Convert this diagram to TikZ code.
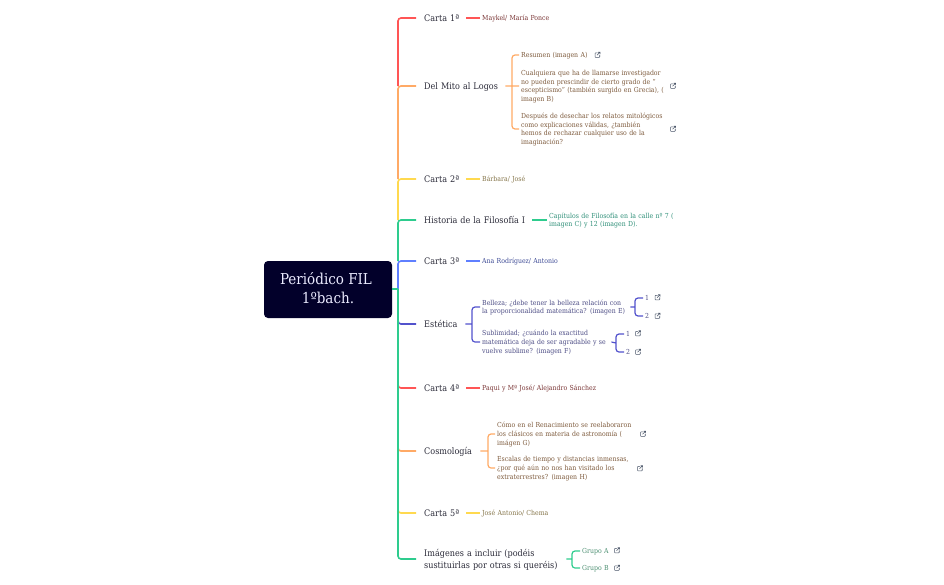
\documentclass[tikz,border=0pt]{standalone}
\usepackage{fontspec}
\setmainfont{DejaVu Serif Condensed}
\definecolor{cred}{HTML}{FF5555}
\definecolor{cora}{HTML}{FFAA66}
\definecolor{cyel}{HTML}{FFD94F}
\definecolor{cgre}{HTML}{2ECC8E}
\definecolor{cblu}{HTML}{5F7FFF}
\definecolor{cind}{HTML}{5252CC}
\definecolor{troot}{HTML}{02002A}
\definecolor{tmain}{HTML}{2A2A38}
\definecolor{ticon}{HTML}{4A5568}
\definecolor{tred}{HTML}{7A3636}
\definecolor{tora}{HTML}{7D5A3C}
\definecolor{tyel}{HTML}{85754A}
\definecolor{ttea}{HTML}{2F8F78}
\definecolor{tblu}{HTML}{3F4C96}
\definecolor{tind}{HTML}{4D4D85}
\definecolor{tgre}{HTML}{4D8F72}
\newcommand\tl[1]{\mbox{#1}}
\newcommand\lstrut{\rule[-.2\baselineskip]{0pt}{\baselineskip}}
\tikzset{
  x=1pt,y=-1pt,
  conn/.style={line width=1.6pt,rounded corners=3pt},
  subconn/.style={line width=1.2pt,rounded corners=3pt},
  mainnode/.style={anchor=west,inner xsep=8pt,inner ysep=0pt,text=tmain,align=left,
    font=\fontsize{9}{12}\selectfont,execute at begin node=\lstrut,execute at end node=\lstrut},
  subnode/.style={anchor=west,inner xsep=2pt,inner ysep=0pt,align=left,
    font=\fontsize{6.9}{8.7}\selectfont,execute at begin node=\lstrut,execute at end node=\lstrut},
  extlink/.pic={
    \draw[ticon,line width=.6pt,rounded corners=.6pt] (.2,-2.2) -- (-2.4,-2.2) -- (-2.4,2.4) -- (2.2,2.4) -- (2.2,-.2);
    \draw[ticon,line width=.6pt] (-.4,.2) -- (2.6,-2.8) (.6,-2.8) -- (2.6,-2.8) -- (2.6,-.8);
  }
}
\begin{document}
\begin{tikzpicture}
\useasboundingbox (0,0) rectangle (944,584);
% root
\node[fill=troot,rounded corners=4pt,minimum width=128pt,minimum height=57pt,inner sep=0pt,
  text=white!92!blue,align=center,font=\fontsize{15}{19}\selectfont] (root) at (328,289.5) {Periódico FIL\hspace*{4pt}\\ 1ºbach.\rule[-4pt]{0pt}{4pt}};
% main nodes
\node[mainnode,text width=34pt] (c1) at (416,18) {\tl{Carta 1ª}};
\node[mainnode,text width=73pt] (dm) at (416,86) {\tl{Del Mito al Logos}};
\node[mainnode,text width=34pt] (c2) at (416,179) {\tl{Carta 2ª}};
\node[mainnode,text width=100pt] (hf) at (416,220) {\tl{Historia de la Filosofía I}};
\node[mainnode,text width=34pt] (c3) at (416,261) {\tl{Carta 3ª}};
\node[mainnode,text width=33pt] (es) at (416,324) {\tl{Estética}};
\node[mainnode,text width=34pt] (c4) at (416,388) {\tl{Carta 4ª}};
\node[mainnode,text width=48pt] (co) at (416,451) {\tl{Cosmología}};
\node[mainnode,text width=34pt] (c5) at (416,513) {\tl{Carta 5ª}};
\node[mainnode,text width=134pt] (im) at (416,559) {\tl{Imágenes a incluir (podéis}\\\tl{sustituirlas por otras si queréis)}};
% spine
\coordinate (j0) at (398,289);
\coordinate (j1) at (398,86);
\coordinate (j2) at (398,179);
\coordinate (j3) at (398,220);
\coordinate (j4) at (398,261);
\coordinate (j5) at (398,316);
\coordinate (j6) at (398,380);
\coordinate (j7) at (398,443);
\coordinate (j8) at (398,505);
\draw[conn,cind] (j5) |- (es.west);
\draw[conn,cred] (j6) |- (c4.west);
\draw[conn,cora] (j7) |- (co.west);
\draw[conn,cyel] (j8) |- (c5.west);
\draw[conn,cred] (j1) |- (c1.west);
\draw[conn,cora] (j2) |- (dm.west);
\draw[conn,cyel] (j3) |- (c2.west);
\draw[conn,cgre] (j4) |- (hf.west);
\draw[conn,cblu] (j0) |- (c3.west);
\draw[conn,cgre] (j0) |- (im.west);
\draw[conn,cgre] (root.east |- j0) -- (j0);
% leaves
\node[subnode,text=tred,text width=80pt] (c1a) at (480,18) {\tl{Maykel/ María Ponce}};
\node[subnode,text=tora,text width=80pt] (dm0) at (519,55) {\tl{Resumen (imagen A)}};
\node[subnode,text=tora,text width=148pt] (dm1) at (519,86) {\tl{Cualquiera que ha de llamarse investigador}\\\tl{no pueden prescindir de cierto grado de "}\\\tl{escepticismo" (también surgido en Grecia), (}\\\tl{imagen B)}};
\node[subnode,text=tora,text width=148pt] (dm2) at (519,129) {\tl{Después de desechar los relatos mitológicos}\\\tl{como explicaciones válidas, ¿también}\\\tl{hemos de rechazar cualquier uso de la}\\\tl{imaginación?}};
\node[subnode,text=tyel,text width=80pt] (c2a) at (480,179) {\tl{Bárbara/ José}};
\node[subnode,text=ttea,text width=130pt] (hfa) at (547,220) {\tl{Capítulos de Filosofía en la calle nº 7 (}\\\tl{imagen C) y 12 (imagen D).}};
\node[subnode,text=tblu,text width=90pt] (c3a) at (480,261) {\tl{Ana Rodríguez/ Antonio}};
\node[subnode,text=tind,text width=146pt] (es0) at (480,307) {\tl{Belleza; ¿debe tener la belleza relación con}\\\tl{la proporcionalidad matemática? (imagen E)}};
\node[subnode,text=tind,text width=127pt] (es1) at (480,342) {\tl{Sublimidad; ¿cuándo la exactitud}\\\tl{matemática deja de ser agradable y se}\\\tl{vuelve sublime? (imagen F)}};
\node[subnode,text=tind,text width=8pt] (es00) at (643,298) {1};
\node[subnode,text=tind,text width=8pt] (es01) at (643,316) {2};
\node[subnode,text=tind,text width=8pt] (es10) at (624,334) {1};
\node[subnode,text=tind,text width=8pt] (es11) at (624,352) {2};
\node[subnode,text=tred,text width=120pt] (c4a) at (480,388) {\tl{Paqui y Mª José/ Alejandro Sánchez}};
\node[subnode,text=tora,text width=140pt] (co0) at (495,434) {\tl{Cómo en el Renacimiento se reelaboraron}\\\tl{los clásicos en materia de astronomía (}\\\tl{imágen G)}};
\node[subnode,text=tora,text width=140pt] (co1) at (495,468) {\tl{Escalas de tiempo y distancias inmensas,}\\\tl{¿por qué aún no nos han visitado los}\\\tl{extraterrestres? (imagen H)}};
\node[subnode,text=tyel,text width=80pt] (c5a) at (480,513) {\tl{José Antonio/ Chema}};
\node[subnode,text=tgre,text width=30pt] (im0) at (580,551) {\tl{Grupo A}};
\node[subnode,text=tgre,text width=30pt] (im1) at (580,568) {\tl{Grupo B}};
% bracket junctions
\coordinate (bdm) at (512,86);
\coordinate (bes) at (472,324);
\coordinate (be0) at (635,307);
\coordinate (be1) at (616,343);
\coordinate (bco) at (488,451);
\coordinate (bim) at (572,559);
% connectors
\draw[subconn,cred] (c1.east) -- (c1a.west);
\draw[subconn,cyel] (c2.east) -- (c2a.west);
\draw[subconn,cgre] (hf.east) -- (hfa.west);
\draw[subconn,cblu] (c3.east) -- (c3a.west);
\draw[subconn,cred] (c4.east) -- (c4a.west);
\draw[subconn,cyel] (c5.east) -- (c5a.west);
\draw[subconn,cora] (dm.east) -- (dm1.west) (bdm) |- (dm0.west) (bdm) |- (dm2.west);
\draw[subconn,cind] (es.east) -- (bes) (bes) |- (es0.west) (bes) |- (es1.west);
\draw[subconn,cind] (es0.east) -- (be0) (be0) |- (es00.west) (be0) |- (es01.west);
\draw[subconn,cind] (es1.east) -- (be1) (be1) |- (es10.west) (be1) |- (es11.west);
\draw[subconn,cora] (co.east) -- (bco) (bco) |- (co0.west) (bco) |- (co1.west);
\draw[subconn,cgre] (im.east) -- (bim) (bim) |- (im0.west) (bim) |- (im1.west);
% link icons
\foreach \p in {(597.5,55),(673,86),(673,129),(657.5,297.5),(657.5,316),(638,333.5),(638,352),(643,434),(640,468.5),(617,550.5),(617,568)}
  \pic at \p {extlink};
\end{tikzpicture}
\end{document}
